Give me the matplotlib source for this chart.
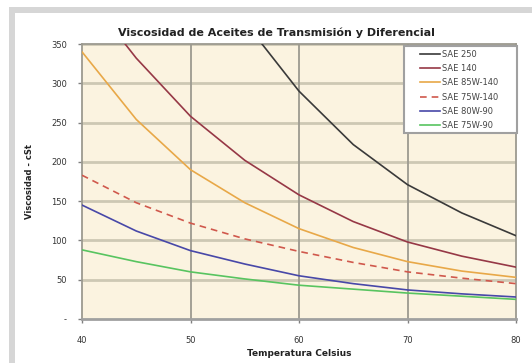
import matplotlib
matplotlib.use("Agg")
import matplotlib.pyplot as plt
from matplotlib.patches import Rectangle

# Temperatures (Celsius) and kinematic viscosity (cSt) per oil grade
temps = [40, 45, 50, 55, 60, 65, 70, 75, 80]
sae_250 = [830, 640, 493, 378, 290, 222, 171, 135, 106]
sae_140 = [420, 332, 258, 202, 158, 124, 98, 80, 66]
sae_85w140 = [340, 254, 190, 148, 115, 91, 73, 61, 53]
sae_75w140 = [183, 148, 122, 102, 86, 72, 60, 52, 45]
sae_80w90 = [145, 112, 87, 70, 55, 45, 37, 32, 28]
sae_75w90 = [88, 73, 60, 51, 43, 38, 33, 29, 25]

series_names = ["SAE 250", "SAE 140", "SAE 85W-140", "SAE 75W-140", "SAE 80W-90", "SAE 75W-90"]
series_vals = [sae_250, sae_140, sae_85w140, sae_75w140, sae_80w90, sae_75w90]
colors = ["#3a3a3a", "#963846", "#e8a848", "#d0584c", "#4848a8", "#58c460"]
styles = ["-", "-", "-", (0, (4, 3)), "-", "-"]

x_ticks = [40, 50, 60, 70, 80]
y_ticks = [0, 50, 100, 150, 200, 250, 300, 350]
y_tick_labels = ["-", "50", "100", "150", "200", "250", "300", "350"]

W, H = 532, 363
fig = plt.figure(figsize=(W / 100, H / 100), dpi=100, facecolor="white")

# light grey frame along top and left edges
fig.patches.append(Rectangle((10 / W, 1 - 13 / H), 1, 6 / H, transform=fig.transFigure,
                             facecolor="#d6d6d6", edgecolor="none"))
fig.patches.append(Rectangle((9 / W, 0), 6 / W, 1 - 7 / H, transform=fig.transFigure,
                             facecolor="#d6d6d6", edgecolor="none"))

left, right, top, bottom = 82, 516, 44, 319
aw, ah = right - left, bottom - top
ax = fig.add_axes([left / W, 1 - bottom / H, aw / W, ah / H])
ax.set_facecolor("#fbf3e0")

for yv in y_ticks[1:]:
    ax.axhline(yv, color="#cdc8b4", lw=2.0, zorder=1)
for xv in x_ticks[1:-1]:
    ax.axvline(xv, color="#9c9a90", lw=1.3, zorder=1)

for name, vals, c, ls in zip(series_names, series_vals, colors, styles):
    ax.plot(temps, vals, color=c, lw=1.2, linestyle=ls, label=name, zorder=3)

ax.set_xlim(40, 80)
ax.set_ylim(0, 350)
ax.set_xticks(x_ticks)
ax.set_xticklabels([str(t) for t in x_ticks])
ax.set_yticks(y_ticks)
ax.set_yticklabels(y_tick_labels)

for side in ["left", "right", "top"]:
    ax.spines[side].set_color("#9c9a90")
    ax.spines[side].set_linewidth(1.3)
ax.spines["bottom"].set_color("#a0a0a0")
ax.spines["bottom"].set_linewidth(2.0)

ax.tick_params(axis="both", colors="#808080", labelcolor="#333333", labelsize=6, length=3, width=1)
ax.tick_params(axis="x", pad=9)
ax.tick_params(axis="y", pad=8)

ax.set_xlabel("Temperatura Celsius", fontsize=6.5, fontweight="bold", color="#222222", labelpad=3)
ax.set_ylabel("Viscosidad - cSt", fontsize=6, fontweight="bold", color="#222222", labelpad=12)

fig.text((95 + 457) / 2 / W, 1 - 33 / H, "Viscosidad de Aceites de Transmisión y Diferencial",
         ha="center", va="center", fontsize=8, fontweight="bold", color="#222222")

# legend box drawn as its own panel, entries placed inside it
ax.add_patch(Rectangle(((404 - left) / aw, (bottom - 133) / ah), 113 / aw, 87 / ah,
                       transform=ax.transAxes, facecolor="white", edgecolor="#a0a0a0",
                       linewidth=1.5, zorder=5, clip_on=False))
leg = ax.legend(loc="upper left", bbox_to_anchor=((420 - left) / aw, (bottom - 49.8) / ah),
                fontsize=6, frameon=False, borderaxespad=0.0, borderpad=0.0,
                handlelength=2.4, labelspacing=0.63, handletextpad=0.25)
leg.set_zorder(6)
for t in leg.get_texts():
    t.set_color("#444444")

fig.savefig("out.png", dpi=100)
